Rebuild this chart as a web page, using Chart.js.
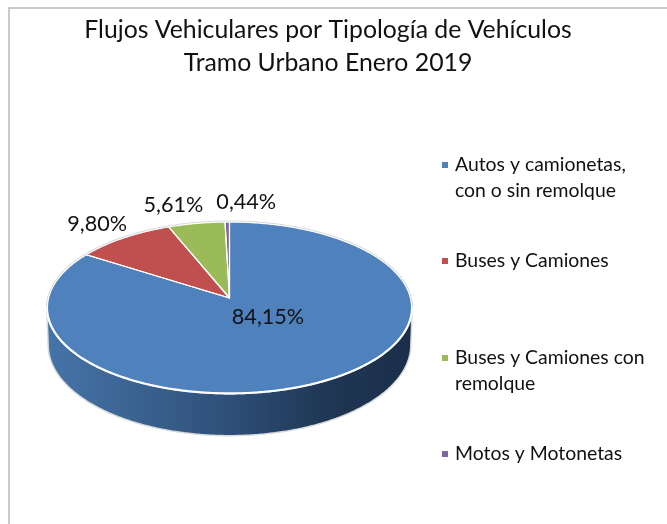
<!DOCTYPE html>
<html>
<head>
<meta charset="utf-8">
<style>html,body{margin:0;padding:0;background:#fff}canvas{display:block}</style>
<script src="https://cdn.jsdelivr.net/npm/chart.js@4"></script>
</head>
<body>
<canvas id="c" width="667" height="524"></canvas>
<script>
const titleLines = ["Flujos Vehiculares por Tipología de Vehículos", "Tramo Urbano Enero 2019"];
const legendLines = [["Autos y camionetas,", "con o sin remolque"], ["Buses y Camiones"], ["Buses y Camiones con", "remolque"], ["Motos y Motonetas"]];
const categories = legendLines.map(l => l.join(" "));
const shares = [84.15, 9.80, 5.61, 0.44];
const sliceColors = ["#4f81bd", "#c0504d", "#9bbb59", "#8064a2"];

const FONT = "Lato, 'Open Sans', sans-serif";
// perspective mapping of the unit pie circle onto the tilted disc
const P = { x: 229.5, y: 298, A: 180.9, B: 84.4, c: -0.111, faceCy: 307.5, lowCy: 345, lowSy: 90 / 85.5, shrink: 0.992, tangent: 0.11 };
function project(r, a) {
  const u = r * Math.cos(a), v = r * Math.sin(a), d = 1 + P.c * v;
  return [P.x + P.A * u / d, P.y + P.B * v / d];
}
const labelPlace = [{ r: 0, dx: 38.5, dy: 19 }, { r: 1, dx: -26.5, dy: -14 }, { r: 1, dx: -23, dy: -18.5 }, { r: 1, dx: 19, dy: -20.5 }];
const legendRows = [{ y: 165, step: 26 }, { y: 261, step: 26 }, { y: 358, step: 26 }, { y: 454, step: 26 }];

function tracePath(ctx, from, to, r, map) {
  const n = Math.max(2, Math.ceil(Math.abs(to - from) / 0.01));
  for (let i = 0; i <= n; i++) {
    const p = map(project(r, from + (to - from) * i / n));
    ctx.lineTo(p[0], p[1]);
  }
}

const discPlugin = {
  id: "disc",
  beforeDraw(chart) {
    const ctx = chart.ctx;
    ctx.save();
    ctx.fillStyle = "#fff";
    ctx.fillRect(0, 0, chart.width, chart.height);
    ctx.strokeStyle = "#c9c9c9";
    ctx.lineWidth = 2;
    ctx.beginPath();
    ctx.moveTo(9, chart.height);
    ctx.lineTo(9, 8);
    ctx.lineTo(chart.width, 8);
    ctx.stroke();
    ctx.restore();
  },
  beforeDatasetsDraw(chart) {
    const ctx = chart.ctx, arcs = chart.getDatasetMeta(0).data;
    const low = p => [P.x + (p[0] - P.x) * P.shrink, P.lowCy + (p[1] - P.faceCy) * P.lowSy];
    const same = p => p;
    ctx.save();
    ctx.lineJoin = "round";
    // side wall
    const g = ctx.createLinearGradient(48, 0, 411, 0);
    g.addColorStop(0, "#4674a8");
    g.addColorStop(0.25, "#3a628f");
    g.addColorStop(0.5, "#2e4f78");
    g.addColorStop(0.75, "#203856");
    g.addColorStop(1, "#1a2e48");
    ctx.beginPath();
    tracePath(ctx, P.tangent, Math.PI - P.tangent, 1, same);
    tracePath(ctx, Math.PI - P.tangent, P.tangent, 1, low);
    ctx.closePath();
    ctx.strokeStyle = "#d8dadc";
    ctx.lineWidth = 3;
    ctx.stroke();
    ctx.fillStyle = g;
    ctx.fill();
    // top face rim
    ctx.beginPath();
    tracePath(ctx, 0, Math.PI * 2, 1, same);
    ctx.closePath();
    ctx.strokeStyle = "#d4d7da";
    ctx.lineWidth = 3;
    ctx.stroke();
    // white highlight on the front edge
    ctx.beginPath();
    tracePath(ctx, P.tangent, Math.PI - P.tangent, 1, same);
    ctx.strokeStyle = "#fff";
    ctx.lineWidth = 3;
    ctx.stroke();
    // slices
    arcs.forEach((arc, i) => {
      ctx.beginPath();
      ctx.moveTo(P.x, P.y);
      tracePath(ctx, arc.startAngle, arc.endAngle, 1, same);
      ctx.closePath();
      ctx.fillStyle = sliceColors[i];
      ctx.fill();
    });
    arcs.forEach(arc => {
      ctx.beginPath();
      ctx.moveTo(P.x, P.y);
      tracePath(ctx, arc.startAngle, arc.endAngle, 1, same);
      ctx.closePath();
      ctx.strokeStyle = "#fff";
      ctx.lineWidth = 1.2;
      ctx.stroke();
    });
    ctx.restore();
    return false;
  },
  afterDraw(chart) {
    const ctx = chart.ctx, arcs = chart.getDatasetMeta(0).data;
    ctx.save();
    ctx.fillStyle = "#111";
    ctx.textAlign = "center";
    ctx.textBaseline = "middle";
    ctx.font = "21.6px " + FONT;
    arcs.forEach((arc, i) => {
      const q = labelPlace[i], p = project(q.r, (arc.startAngle + arc.endAngle) / 2);
      ctx.fillText(shares[i].toFixed(2).replace(".", ",") + "%", p[0] + q.dx, p[1] + q.dy);
    });
    ctx.textAlign = "left";
    ctx.font = "19.4px " + FONT;
    legendLines.forEach((lines, i) => {
      const row = legendRows[i];
      ctx.fillStyle = sliceColors[i];
      ctx.fillRect(442, row.y - 3, 6, 6);
      ctx.fillStyle = "#111";
      lines.forEach((t, k) => ctx.fillText(t, 455, row.y + k * row.step));
    });
    ctx.restore();
  }
};

new Chart(document.getElementById("c"), {
  type: "pie",
  data: { labels: categories, datasets: [{ data: shares, backgroundColor: sliceColors }] },
  plugins: [discPlugin],
  options: {
    responsive: false,
    animation: false,
    layout: { padding: { right: 11 } },
    plugins: {
      legend: { display: false },
      tooltip: { enabled: false },
      title: {
        display: true,
        text: titleLines,
        color: "#111",
        font: { family: FONT, size: 24.8, weight: "normal", lineHeight: 1.33 },
        padding: { top: 14, bottom: 10 }
      }
    }
  }
});
</script>
</body>
</html>
